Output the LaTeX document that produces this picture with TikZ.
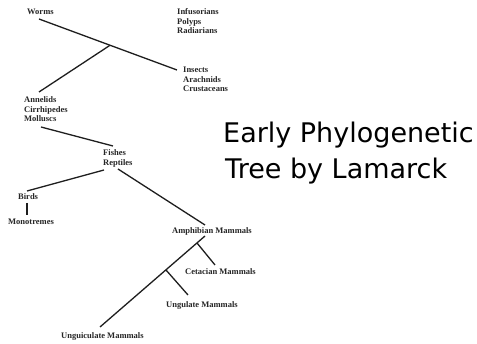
\documentclass[tikz,border=0pt]{standalone}
\usepackage{fontspec}
\setmainfont{Liberation Serif}
\newfontfamily\titlefont{DejaVu Sans}
\definecolor{lblc}{HTML}{262626}
\definecolor{linec}{HTML}{1E1E1E}
\begin{document}
\begin{tikzpicture}[x=1pt,y=-1pt,
  lbl/.style={anchor=base west, inner sep=0pt, text=lblc, font=\fontsize{8.5}{9.3}\selectfont\bfseries},
  ttl/.style={anchor=base west, inner sep=0pt, text=black, font=\titlefont\fontsize{27}{36}\selectfont},
  edge/.style={draw=linec, line width=1.3pt}]
\useasboundingbox[fill=white] (0,0) rectangle (477,344);
% labels
\node[lbl] (worms) at (27,15) {Worms};
\node[lbl] (inf) at (177,15) {Infusorians};
\node[lbl] (pol) at (177,24.3) {Polyps};
\node[lbl] (rad) at (177,33.6) {Radiarians};
\node[lbl] (ins) at (183,73) {Insects};
\node[lbl] (ara) at (183,82.3) {Arachnids};
\node[lbl] (cru) at (183,91.6) {Crustaceans};
\node[lbl] (ann) at (24,103) {Annelids};
\node[lbl] (cir) at (24,112.3) {Cirrhipedes};
\node[lbl] (mol) at (24,121.6) {Molluscs};
\node[lbl] (fis) at (103,156) {Fishes};
\node[lbl] (rep) at (103,165.3) {Reptiles};
\node[lbl] (bir) at (18,200) {Birds};
\node[lbl] (mon) at (8,225) {Monotremes};
\node[lbl] (amp) at (172,234) {Amphibian Mammals};
\node[lbl] (cet) at (185,275) {Cetacian Mammals};
\node[lbl] (ung) at (166,308) {Ungulate Mammals};
\node[lbl] (ugc) at (61,339) {Unguiculate Mammals};
% title
\node[ttl] (t1) at (223,143) {Early Phylogenetic};
\node[ttl] (t2) at (225,179) {Tree by Lamarck};
% connector endpoints
\coordinate (w1) at (39,19);
\coordinate (e1) at (177,70);
\coordinate (j1) at (110,45.3);
\coordinate (a1) at (39,92);
\coordinate (a2) at (41,127);
\coordinate (f1) at (113,146);
\coordinate (f2) at (104,170);
\coordinate (b1) at (27,191);
\coordinate (b2) at (27,203);
\coordinate (b3) at (27,215);
\coordinate (r1) at (118,169);
\coordinate (m1) at (205,225);
\coordinate (m2) at (205,236);
\coordinate (u1) at (100,327);
\coordinate (j2) at (197,243);
\coordinate (c1) at (215,265);
\coordinate (j3) at (166,270);
\coordinate (g1) at (188,295);
% connectors
\draw[edge] (w1) -- (e1);
\draw[edge] (j1) -- (a1);
\draw[edge] (a2) -- (f1);
\draw[edge] (f2) -- (b1);
\draw[edge] (b2) -- (b3);
\draw[edge] (r1) -- (m1);
\draw[edge] (m2) -- (u1);
\draw[edge] (j2) -- (c1);
\draw[edge] (j3) -- (g1);
\end{tikzpicture}
\end{document}
